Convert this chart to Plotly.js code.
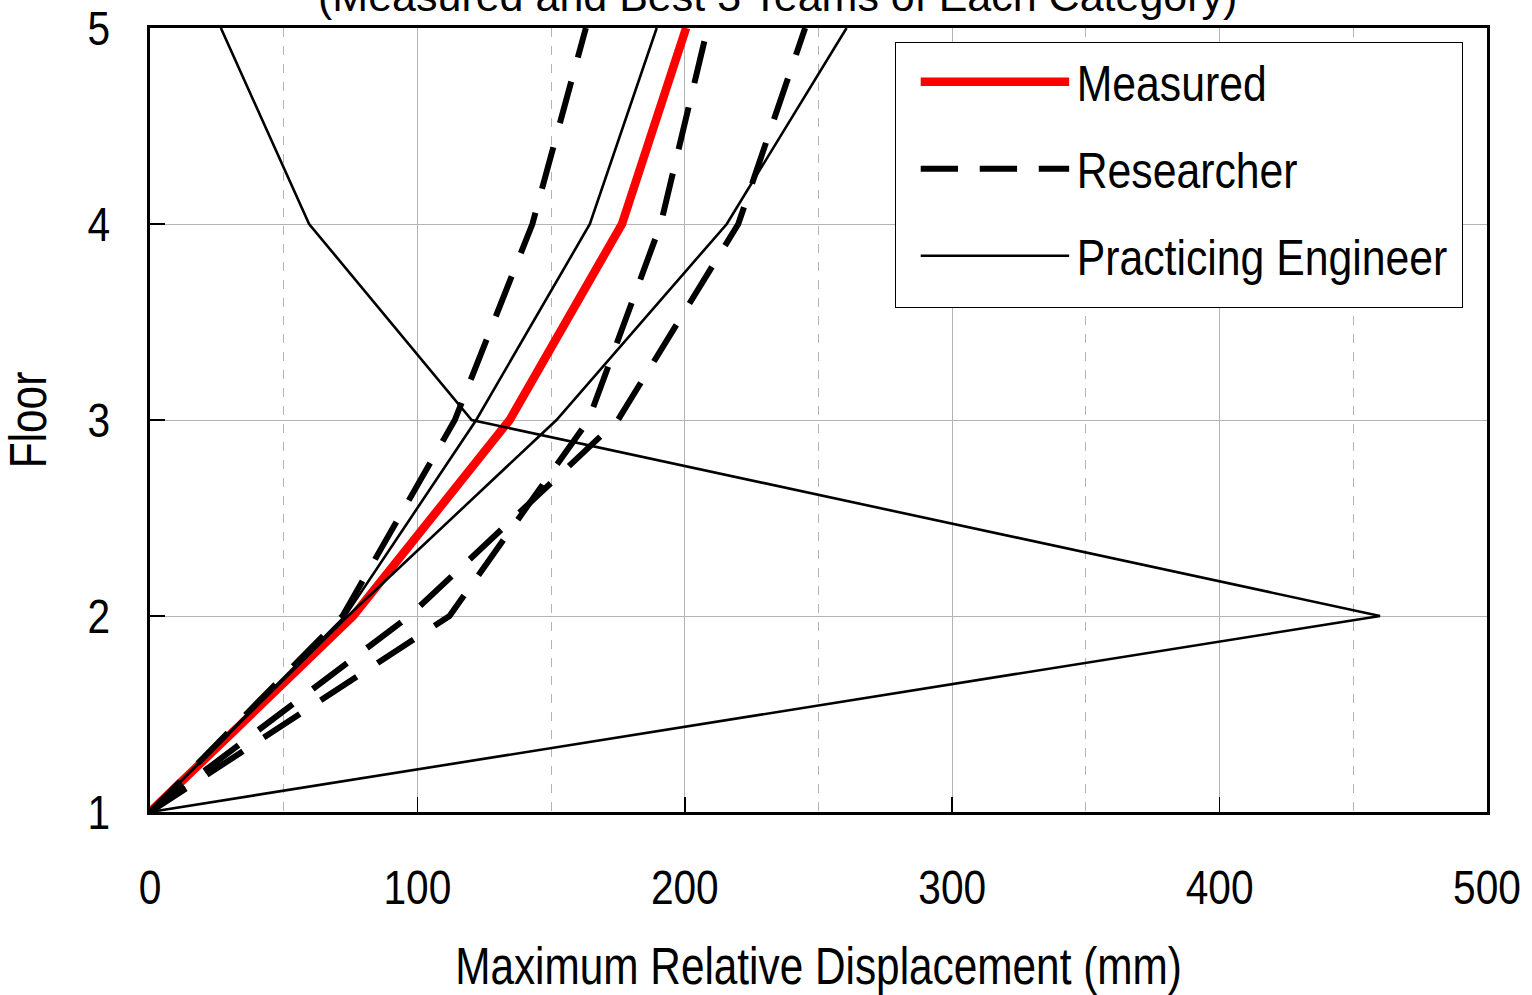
<!DOCTYPE html>
<html>
<head>
<meta charset="utf-8">
<script src="https://cdn.plot.ly/plotly-3.0.1.min.js"></script>
<style>html,body{margin:0;padding:0;background:#fff;}#chart{width:1532px;height:995px;}</style>
</head>
<body>
<div id="chart"></div>
<script>
// Floors (y values)
const floors = [1, 2, 3, 4, 5];

// Measured
const measured = [0, 76, 134.5, 176.5, 200.5];

// Researcher teams (best 3)
const researcherA = [0, 72, 114, 143, 163];
const researcherB = [0, 112, 164, 191, 208.5];
const researcherC = [0, 97, 175, 220, 245];

// Practicing engineer teams (best 3)
const engineerA = [0, 460, 120.3, 59.5, 26.5];
const engineerB = [0, 73, 122, 164.5, 189.5];
const engineerC = [0, 74, 152, 215.7, 260.5];

const xTicks = [0, 100, 200, 300, 400, 500];
const yTicks = [1, 2, 3, 4, 5];

// Arial-Narrow look: Liberation Sans, horizontally condensed after drawing
const FONT = '"Liberation Sans", Arial, sans-serif';
const AXIS_SCALE = 0.83;
const LEGEND_SCALE = 0.855;

const dashStyle = {color: '#000', width: 6, dash: '43px,25px'};
const thinStyle = {color: '#000', width: 2.6};

const traces = [
  {x: measured, y: floors, name: 'Measured', legendgroup: 'm', mode: 'lines',
   line: {color: '#ff0000', width: 8.5}},
  {x: researcherA, y: floors, name: 'Researcher', legendgroup: 'r', mode: 'lines', line: dashStyle},
  {x: researcherB, y: floors, name: 'Researcher', legendgroup: 'r', showlegend: false, mode: 'lines', line: dashStyle},
  {x: researcherC, y: floors, name: 'Researcher', legendgroup: 'r', showlegend: false, mode: 'lines', line: dashStyle},
  {x: engineerA, y: floors, name: 'Practicing Engineer', legendgroup: 'p', mode: 'lines', line: thinStyle},
  {x: engineerB, y: floors, name: 'Practicing Engineer', legendgroup: 'p', showlegend: false, mode: 'lines', line: thinStyle},
  {x: engineerC, y: floors, name: 'Practicing Engineer', legendgroup: 'p', showlegend: false, mode: 'lines', line: thinStyle}
];

const layout = {
  width: 1532, height: 995,
  margin: {l: 150, r: 45, t: 28, b: 183},
  paper_bgcolor: '#fff', plot_bgcolor: '#fff',
  showlegend: true,
  font: {family: FONT, color: '#000', size: 49},
  xaxis: {
    range: [0, 500], tickvals: xTicks, ticktext: xTicks.map(String),
    showgrid: true, gridcolor: '#b4b4b4', gridwidth: 1,
    minor: {dtick: 50, tick0: 0, showgrid: true, gridcolor: '#b4b4b4', griddash: 'dash', gridwidth: 1, ticks: ''},
    ticks: 'inside', ticklen: 15, tickwidth: 1.5, tickcolor: '#000',
    showline: true, linecolor: '#000', linewidth: 3, mirror: true, zeroline: false,
    tickfont: {family: FONT, size: 49},
    ticklabelstandoff: 30,
    automargin: false,
    title: {text: 'Maximum Relative Displacement (mm)', font: {family: FONT, size: 51}, standoff: 48}
  },
  yaxis: {
    range: [1, 5], tickvals: yTicks, ticktext: yTicks.map(String),
    showgrid: true, gridcolor: '#b4b4b4', gridwidth: 1,
    ticks: 'inside', ticklen: 15, tickwidth: 1.5, tickcolor: '#000',
    showline: true, linecolor: '#000', linewidth: 3, mirror: true, zeroline: false,
    tickfont: {family: FONT, size: 49},
    ticklabelstandoff: 27,
    automargin: false,
    title: {text: 'Floor', font: {family: FONT, size: 51}, standoff: 37}
  },
  legend: {
    x: 0.557, y: 0.9825, xanchor: 'left', yanchor: 'top',
    bgcolor: '#fff', bordercolor: '#000', borderwidth: 1,
    font: {family: FONT, size: 50, color: '#000'},
    itemwidth: 171, tracegroupgap: 19, traceorder: 'grouped'
  },
  annotations: [{
    xref: 'paper', yref: 'paper', x: 0.469, y: 1.0408,
    xanchor: 'center', yanchor: 'middle', showarrow: false,
    text: '(Measured and Best 3 Teams of Each Category)',
    font: {family: FONT, size: 43, color: '#000'}
  }]
};

function condense(t, s) {
  const x = parseFloat(t.getAttribute('x') || 0);
  const y = parseFloat(t.getAttribute('y') || 0);
  const prev = t.getAttribute('transform') || '';
  t.setAttribute('transform', prev + ' translate(' + x + ',' + y + ') scale(' + s + ',1) translate(' + (-x) + ',' + (-y) + ')');
}

Plotly.newPlot('chart', traces, layout, {displayModeBar: false, staticPlot: true}).then(function (gd) {
  // condense axis and legend texts horizontally (Arial Narrow look), keeping each anchor point
  gd.querySelectorAll('svg text').forEach(function (t) {
    if (t.closest('.annotation')) return;
    condense(t, t.closest('.legend') ? LEGEND_SCALE : AXIS_SCALE);
  });
  const leg = gd.querySelector('.legend');
  if (leg) {
    // legend samples: start a little further in and keep them the reference length
    leg.querySelectorAll('g.legendlines').forEach(function (g) {
      const bb = g.getBBox();
      const x0 = bb.x;
      const prev = g.getAttribute('transform') || '';
      g.setAttribute('transform', prev + ' translate(' + (x0 + 20) + ',0) scale(0.868,1) translate(' + (-x0) + ',0)');
    });
    // fit the legend frame to the condensed text
    let maxRight = 0;
    leg.querySelectorAll('text').forEach(function (t) {
      maxRight = Math.max(maxRight, t.getBoundingClientRect().right);
    });
    const bg = leg.querySelector('rect.bg');
    if (bg) {
      const br = bg.getBoundingClientRect();
      bg.setAttribute('width', Math.round(maxRight - br.left + 15));
      bg.setAttribute('height', 265);
    }
  }
});
</script>
</body>
</html>
